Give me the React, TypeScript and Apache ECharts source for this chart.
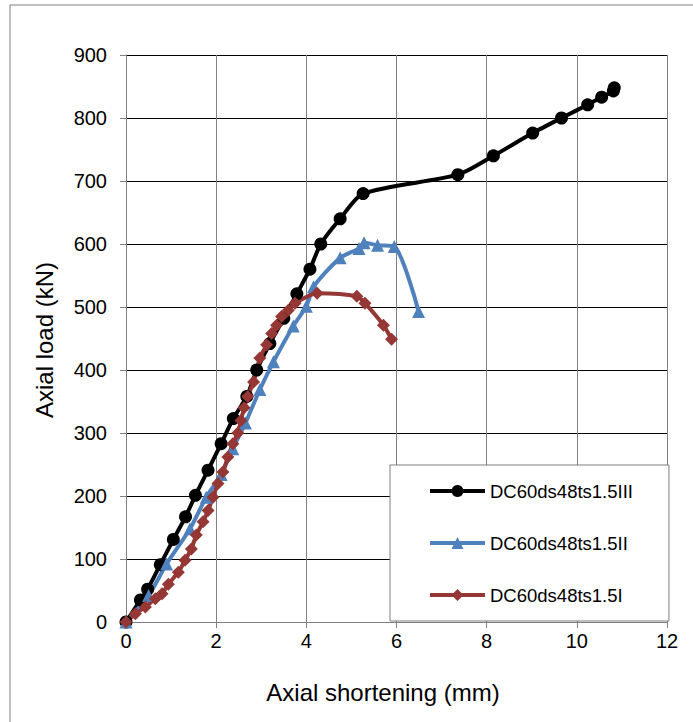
import React, { useEffect, useRef } from "react";
import * as echarts from "echarts";

const seriesNames = ["DC60ds48ts1.5III", "DC60ds48ts1.5II", "DC60ds48ts1.5I"];

const xTicks = [0, 2, 4, 6, 8, 10, 12];
const yTicks = [0, 100, 200, 300, 400, 500, 600, 700, 800, 900];
const xTitle = "Axial shortening (mm)";
const yTitle = "Axial load (kN)";

const seriesIII: [number, number][] = [
  [0, 0], [0.32, 35], [0.48, 52], [0.76, 91], [1.05, 131], [1.32, 167], [1.54, 201],
  [1.82, 241], [2.11, 283], [2.38, 323], [2.68, 358], [2.9, 400], [3.19, 442],
  [3.5, 482], [3.79, 521], [4.08, 560], [4.32, 600], [4.75, 640], [5.26, 680],
  [7.36, 710], [8.15, 740], [9.02, 776], [9.66, 800], [10.24, 821], [10.55, 833],
  [10.81, 843], [10.83, 848],
];

const seriesII: [number, number][] = [
  [0, 0], [0.5, 42], [0.9, 92], [1.42, 148], [1.78, 198], [2.11, 234], [2.37, 275],
  [2.65, 316], [2.97, 369], [3.27, 413], [3.71, 470], [4.0, 501], [4.16, 532],
  [4.75, 578], [5.17, 593], [5.28, 602], [5.58, 598], [5.95, 596], [6.49, 493],
];

const seriesI: [number, number][] = [
  [0, 0], [0.21, 13], [0.43, 24], [0.65, 37], [0.8, 45], [0.94, 60], [1.16, 79],
  [1.31, 98], [1.45, 116], [1.56, 138], [1.71, 159], [1.82, 177], [1.93, 198],
  [2.04, 220], [2.15, 238], [2.26, 262], [2.37, 283], [2.48, 300], [2.55, 320],
  [2.62, 340], [2.7, 358], [2.83, 381], [2.97, 419], [3.12, 440], [3.23, 458],
  [3.34, 471], [3.45, 485], [3.6, 495], [3.75, 506], [4.24, 522], [5.12, 517],
  [5.3, 506], [5.71, 471], [5.89, 449],
];

const colors = ["#000000", "#4F81BD", "#953735"];
const FONT = "'Liberation Sans', Arial, sans-serif";

export default function App() {
  const ref = useRef<HTMLDivElement>(null);
  useEffect(() => {
    document.body.style.margin = "0";
    if (!ref.current) return;
    const chart = echarts.init(ref.current, undefined, { renderer: "svg" });
    const mkSeries = (name: string, data: [number, number][], color: string, symbol: string, size: number) => ({
      name,
      type: "line",
      data,
      smooth: 0.25,
      symbol,
      symbolSize: size,
      lineStyle: { color, width: 4 },
      itemStyle: { color, borderWidth: 0 },
      emphasis: { disabled: true },
    });
    chart.setOption({
      animation: false,
      textStyle: { fontFamily: FONT },
      graphic: [
        {
          type: "rect",
          shape: { x: 10, y: 5, width: 720, height: 760 },
          style: { fill: "none", stroke: "#7f7f7f", lineWidth: 1 },
          silent: true,
          z: -10,
        },
        {
          type: "text",
          x: 383,
          y: 692,
          style: {
            text: xTitle,
            fontSize: 24,
            fontFamily: FONT,
            fill: "#000",
            textAlign: "center",
            textVerticalAlign: "middle",
          },
          silent: true,
        },
        {
          type: "text",
          x: 44,
          y: 340,
          rotation: Math.PI / 2,
          style: {
            text: yTitle,
            fontSize: 24,
            fontFamily: FONT,
            fill: "#000",
            textAlign: "center",
            textVerticalAlign: "middle",
          },
          silent: true,
        },
      ],
      grid: { left: 126, top: 55, width: 541, height: 567, containLabel: false },
      legend: {
        orient: "vertical",
        left: 390,
        top: 465,
        padding: [16, 36, 16, 38],
        itemGap: 32,
        itemWidth: 55,
        itemHeight: 15,
        backgroundColor: "#ffffff",
        borderColor: "#7f7f7f",
        borderWidth: 1,
        lineStyle: { width: 4 },
        textStyle: { fontSize: 18.5, color: "#000", fontFamily: FONT, lineHeight: 20 },
        data: seriesNames,
        selectedMode: false,
        z: 10,
      },
      xAxis: {
        type: "value",
        min: xTicks[0],
        max: xTicks[xTicks.length - 1],
        interval: 2,
        axisLine: { show: true, lineStyle: { color: "#808080", width: 1 } },
        axisTick: { show: true, inside: false, length: 6, lineStyle: { color: "#808080" } },
        axisLabel: { fontSize: 20, color: "#000", margin: 9, fontFamily: FONT },
        splitLine: { show: true, lineStyle: { color: "#808080", width: 1 } },
      },
      yAxis: {
        type: "value",
        min: yTicks[0],
        max: yTicks[yTicks.length - 1],
        interval: 100,
        axisLine: { show: true, lineStyle: { color: "#808080", width: 1 } },
        axisTick: { show: true, inside: false, length: 6, lineStyle: { color: "#808080" } },
        axisLabel: { fontSize: 20, color: "#000", margin: 19, fontFamily: FONT },
        splitLine: { show: true, lineStyle: { color: "#000000", width: 1 } },
      },
      series: [
        mkSeries(seriesNames[0], seriesIII, colors[0], "circle", 13),
        mkSeries(seriesNames[1], seriesII, colors[1], "triangle", 13),
        mkSeries(seriesNames[2], seriesI, colors[2], "diamond", 13),
      ],
    });
    return () => chart.dispose();
  }, []);
  return <div ref={ref} style={{ width: 693, height: 722 }} />;
}
